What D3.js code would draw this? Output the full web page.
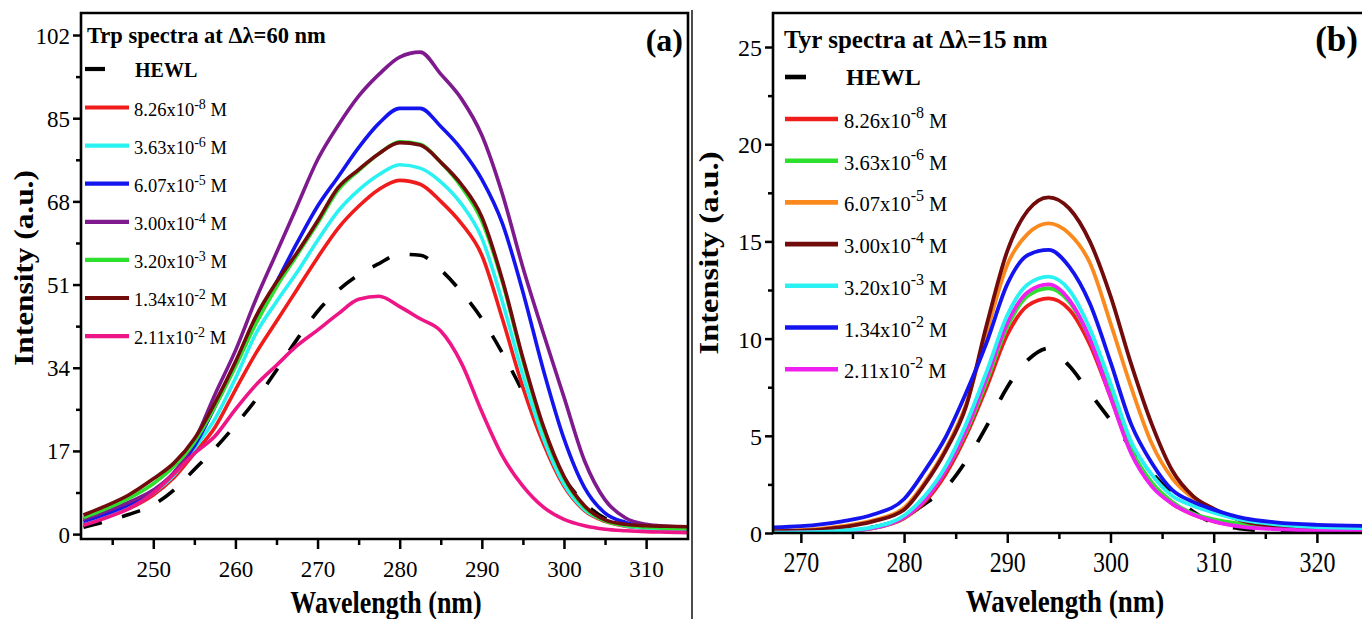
<!DOCTYPE html>
<meta charset="utf-8">
<head>
<style>
    body { margin: 0; background: #fff; }
    svg { font-family: "Liberation Serif", "Times New Roman", serif; }
    .tick line { stroke: #000; }
    .tick text { fill: #000; }
    .bold { font-weight: bold; }
</style>
<script src="https://cdn.jsdelivr.net/npm/d3@7"></script>
</head>
<body>
<svg id="chart" width="1362" height="619"></svg>
<script>
// ---------- data, panel (a): Trp spectra at dl = 60 nm ----------
var trpWl = [241.5, 244, 247, 250, 252.5, 255, 257.5, 260, 262.5, 265, 267.5, 270, 272.5, 275, 277.5,
             280, 282.5, 285, 287.5, 290, 292.5, 295, 297.5, 300, 302.5, 305, 307.5, 310, 312.5, 315.2];
var trpHewl  = [1.4, 2.5, 4, 6, 9, 13.2, 17.5, 22.3, 27.5, 33.5, 39.8, 45.5, 49.8, 53, 55.3,
                57.2, 57, 54, 49.5, 44, 37, 29, 20, 11.5, 6.4, 3.2, 1.9, 1.3, 1.1, 1];
var trpC1 = [2.2, 3.4, 5.2, 8, 11.5, 16.5, 21.8, 29.5, 37, 43.5, 50, 56.5, 62.5, 67, 70.5,
             72.3, 71.5, 68, 63.5, 57, 44, 30, 18.5, 9.8, 4.8, 2.6, 1.6, 1.2, 1, 0.9];
var trpC2 = [2.4, 3.6, 5.5, 8.4, 12, 17.5, 23.5, 31.8, 41, 47.5, 53.5, 60, 66, 70.3, 73.5,
             75.5, 74.8, 72, 67.5, 60.5, 47.5, 32.5, 19.5, 10.2, 5, 2.8, 1.7, 1.2, 1, 0.9];
var trpC3 = [2.6, 4, 6, 8.8, 12.5, 18, 26, 34.5, 43.5, 51.5, 59.5, 67, 73, 79, 84,
             87, 87, 83.3, 78.7, 72.5, 63.5, 49.5, 33.5, 19.5, 9.5, 4.3, 2.4, 1.6, 1.3, 1.1];
var trpC4 = [3, 4.5, 6.5, 9, 12.5, 19, 28.5, 37.5, 48, 57.5, 67, 76.5, 83.5, 89.5, 94,
             97.5, 98.5, 94, 89, 81.5, 69.5, 54.5, 41, 28, 15, 7, 3.3, 2, 1.6, 1.4];
var trpC5 = [3.4, 5, 7.3, 10.3, 13.8, 18.8, 26, 34.2, 43, 50.5, 57, 63.5, 70.3, 74.3, 77.8,
             80.2, 79.7, 76, 71, 64, 51.5, 35.5, 21.5, 11.5, 5.5, 2.7, 1.8, 1.4, 1.2, 1.1];
var trpC6 = [3.9, 5.6, 8, 11.3, 14.5, 19.5, 26.8, 35.2, 44.5, 51.5, 57.5, 64, 70.8, 74.5, 77.8,
             80, 79.5, 76, 71.5, 64.8, 52, 36, 22, 11.8, 5.8, 2.9, 2, 1.7, 1.6, 1.5];
var trpC7 = [1.8, 3.2, 5.2, 8.4, 12.3, 16.5, 20, 25.5, 30.5, 34.5, 38.5, 41.7, 45, 48, 48.6,
             46.5, 44, 41.5, 35, 25, 16, 9.8, 5.5, 3, 1.7, 1, 0.7, 0.5, 0.4, 0.3];

// ---------- data, panel (b): Tyr spectra at dl = 15 nm ----------
var tyrWl = [267.3, 270, 274, 277, 280, 282, 284, 286, 288, 290, 292, 294, 296, 298, 300,
             302, 304, 306, 308, 310, 313, 316, 320, 325];
var tyrHewl = [0.02, 0.03, 0.1, 0.3, 0.8, 1.5, 2.3, 3.7, 5.5, 7.5, 8.9, 9.5, 8.6, 7.2, 5.8,
               4.4, 3.1, 2, 1.1, 0.5, 0.2, 0.1, 0.05, 0.03];
var tyrC1 = [0.02, 0.03, 0.1, 0.25, 0.75, 1.6, 3, 5, 7.5, 10.2, 11.7, 12.07, 11.5, 9.7, 7,
             4.2, 2.5, 1.5, 0.95, 0.6, 0.35, 0.25, 0.18, 0.15];
var tyrC2 = [0.02, 0.03, 0.1, 0.25, 0.8, 1.7, 3.2, 5.2, 7.8, 10.6, 12.2, 12.59, 11.9, 10, 7.2,
             4.3, 2.6, 1.6, 1, 0.7, 0.45, 0.3, 0.22, 0.2];
var tyrC3 = [0.12, 0.15, 0.35, 0.65, 1.3, 2.6, 4.3, 6.6, 10.3, 13.8, 15.4, 15.93, 15.4, 13.9, 10.8,
             7.5, 4.6, 2.8, 1.8, 1.2, 0.6, 0.35, 0.2, 0.15];
var tyrC4 = [0.1, 0.12, 0.3, 0.6, 1.2, 2.5, 4.2, 6.5, 10.7, 14.5, 16.6, 17.27, 16.7, 15, 12.2,
             8.7, 5.6, 3.2, 1.9, 1.25, 0.6, 0.35, 0.2, 0.15];
var tyrC5 = [0.02, 0.03, 0.12, 0.3, 0.9, 1.9, 3.4, 5.6, 8.3, 11.2, 12.8, 13.19, 12.5, 10.5, 7.7,
             4.7, 3, 1.9, 1.4, 1.05, 0.65, 0.45, 0.3, 0.25];
var tyrC6 = [0.29, 0.35, 0.6, 0.95, 1.75, 3.2, 4.9, 7.2, 9.8, 12.8, 14.3, 14.56, 13.7, 11.8, 8.8,
             5.6, 3.6, 2.2, 1.6, 1.2, 0.75, 0.55, 0.42, 0.36];
var tyrC7 = [0.02, 0.03, 0.1, 0.25, 0.8, 1.7, 3.2, 5.3, 8, 10.8, 12.4, 12.79, 12, 10, 7,
             4.1, 2.4, 1.5, 0.95, 0.6, 0.3, 0.2, 0.12, 0.1];

// concentrations shown in both legends
var concMant = ["8.26", "3.63", "6.07", "3.00", "3.20", "1.34", "2.11"];
var concExp  = ["-8", "-6", "-5", "-4", "-3", "-2", "-2"];

var trpTicksY = [0, 17, 34, 51, 68, 85, 102];
var trpTicksX = [250, 260, 270, 280, 290, 300, 310];
var tyrTicksY = [0, 5, 10, 15, 20, 25];
var tyrTicksX = [270, 280, 290, 300, 310, 320];

var svg = d3.select("#chart");

function panel(o) {
    var x = d3.scaleLinear().domain(o.xDom).range([o.left, o.right]);
    var y = d3.scaleLinear().domain(o.yDom).range([o.bottom, o.top]);

    svg.append("clipPath").attr("id", "clip" + o.id).append("rect")
        .attr("x", o.left).attr("y", o.top)
        .attr("width", o.right - o.left).attr("height", o.bottom - o.top);

    var line = d3.line()
        .x(function (d, i) { return x(o.wl[i]); })
        .y(function (d) { return y(d); })
        .curve(d3.curveMonotoneX);

    var lines = svg.append("g").attr("clip-path", "url(#clip" + o.id + ")");
    o.order.forEach(function (k) {
        lines.append("path").datum(o.series[k])
            .attr("d", line)
            .attr("fill", "none")
            .attr("stroke", o.colors[k])
            .attr("stroke-width", o.lineW)
            .attr("stroke-linejoin", "round")
            .attr("stroke-dasharray", k == 0 ? o.dash : null);
    });

    // ticks
    function stepRange(a, b, s) { return d3.range(a, b + s / 2, s); }
    var gx = svg.append("g").attr("transform", "translate(0," + o.bottom + ")")
        .call(d3.axisBottom(x).tickValues(o.ticksX).tickSize(10).tickSizeOuter(0).tickFormat(d3.format("d")));
    var gxm = svg.append("g").attr("transform", "translate(0," + o.bottom + ")")
        .call(d3.axisBottom(x).tickValues(stepRange(o.minorX[0], o.minorX[1], 10)).tickSize(6).tickFormat(""));
    var gy = svg.append("g").attr("transform", "translate(" + o.left + ",0)")
        .call(d3.axisLeft(y).tickValues(o.ticksY).tickSize(8).tickSizeOuter(0).tickFormat(d3.format("d")));
    var gym = svg.append("g").attr("transform", "translate(" + o.left + ",0)")
        .call(d3.axisLeft(y).tickValues(stepRange(o.minorY[0], o.minorY[1], o.minorY[2])).tickSize(5).tickFormat(""));
    [gx, gxm, gy, gym].forEach(function (g) {
        g.attr("font-family", null).attr("font-size", null);
        g.select(".domain").remove();
        g.selectAll(".tick line").attr("stroke-width", 2.5);
    });
    gx.selectAll(".tick text")
        .attr("font-size", o.tickFont).attr("dy", null).attr("y", 0)
        .attr("transform", "translate(0," + o.xLabelBase + ") scale(1," + o.xLabelStretch + ")");
    gy.selectAll(".tick text")
        .attr("font-size", o.tickFont).attr("x", -11).attr("dy", "0.35em");

    // frame
    svg.append("path").attr("d", o.frame)
        .attr("fill", "none").attr("stroke", "#000").attr("stroke-width", 2.6);

    // axis titles (the source figure is slightly stretched vertically)
    svg.append("text").attr("class", "bold")
        .attr("transform", "translate(" + o.xTitle[0] + "," + o.xTitle[1] + ") scale(1,1.18)")
        .attr("text-anchor", "middle").attr("font-size", o.titleFont)
        .text("Wavelength (nm)");
    svg.append("text").attr("class", "bold")
        .attr("transform", "translate(" + o.yTitle[0] + "," + o.yTitle[1] + ") rotate(-90) scale(1.16,1)")
        .attr("text-anchor", "middle").attr("font-size", o.titleFont + 1)
        .text("Intensity (a.u.)");

    // panel letter
    svg.append("text").attr("class", "bold")
        .attr("x", o.letter[0]).attr("y", o.letter[1])
        .attr("text-anchor", "end").attr("font-size", o.letterFont)
        .text(o.letterText);

    // legend
    var L = o.legend;
    svg.append("text").attr("class", "bold")
        .attr("x", L.titleX).attr("y", L.titleY).attr("font-size", L.titleFont)
        .text(o.legendTitle);
    svg.append("line")
        .attr("x1", L.x0).attr("x2", L.x0 + L.dashLen).attr("y1", L.hewlY).attr("y2", L.hewlY)
        .attr("stroke", "#000").attr("stroke-width", L.w);
    svg.append("text").attr("class", "bold")
        .attr("x", L.hewlX).attr("y", L.hewlY + L.hewlDy).attr("font-size", L.hewlFont)
        .text("HEWL");
    concMant.forEach(function (m, i) {
        var yy = L.y0 + i * L.step;
        svg.append("line")
            .attr("x1", L.x0).attr("x2", L.x1).attr("y1", yy).attr("y2", yy)
            .attr("stroke", o.colors[i + 1]).attr("stroke-width", L.w);
        var t = svg.append("text").attr("x", L.textX).attr("y", yy + L.textDy)
            .attr("font-size", L.font);
        t.append("tspan").text(m + "x10");
        t.append("tspan").attr("dy", -L.supRise).attr("font-size", L.supFont).text(concExp[i]);
        t.append("tspan").attr("dy", L.supRise).text(" M");
    });
}

panel({
    id: "a",
    wl: trpWl,
    series: [trpHewl, trpC1, trpC2, trpC3, trpC4, trpC5, trpC6, trpC7],
    colors: ["#000000", "#f01c1c", "#2af2f2", "#1414ee", "#7e1a8e", "#2ee02e", "#720c0c", "#ee1687"],
    order: [0, 1, 2, 3, 4, 5, 6, 7],
    lineW: 3.6,
    dash: "19,21",
    xDom: [241.2, 315.1], yDom: [-1.0, 106.5],
    left: 81, right: 688, top: 13, bottom: 539,
    ticksX: trpTicksX, ticksY: trpTicksY,
    minorX: [245, 305], minorY: [8.5, 93.5, 17],
    tickFont: 23, xLabelBase: 38, xLabelStretch: 1,
    frame: "M81,13H688V539H81Z",
    titleFont: 26, xTitle: [386, 613], yTitle: [33, 268],
    letter: [683, 51], letterFont: 32, letterText: "(a)",
    legendTitle: "Trp spectra at \u0394\u03bb=60 nm",
    legend: { titleX: 87, titleY: 43, titleFont: 22.5,
              x0: 85, x1: 129, dashLen: 20, w: 4.2,
              hewlX: 135, hewlY: 69, hewlDy: 8, hewlFont: 20,
              y0: 107.5, step: 38.1, textX: 134, textDy: 8,
              font: 18.5, supFont: 14, supRise: 7 }
});

panel({
    id: "b",
    wl: tyrWl,
    series: [tyrHewl, tyrC1, tyrC2, tyrC3, tyrC4, tyrC5, tyrC6, tyrC7],
    colors: ["#000000", "#f01c1c", "#2ee02e", "#fb8a1e", "#720c0c", "#2af2f2", "#1414ee", "#f020f0"],
    order: [0, 1, 2, 3, 4, 7, 5, 6],
    lineW: 3.8,
    dash: "22,26",
    xDom: [267.3, 325], yDom: [0, 26.75],
    left: 773, right: 1368.5, top: 13, bottom: 533,
    ticksX: tyrTicksX, ticksY: tyrTicksY,
    minorX: [275, 325], minorY: [2.5, 22.5, 5],
    tickFont: 24, xLabelBase: 39, xLabelStretch: 1.25,
    frame: "M1368.5,13H773V533H1368.5",
    titleFont: 27, xTitle: [1065, 612], yTitle: [718, 253],
    letter: [1358, 51], letterFont: 35, letterText: "(b)",
    legendTitle: "Tyr spectra at \u0394\u03bb=15 nm",
    legend: { titleX: 784, titleY: 48, titleFont: 25,
              x0: 785, x1: 838, dashLen: 21, w: 4.6,
              hewlX: 846, hewlY: 77, hewlDy: 8, hewlFont: 24,
              y0: 119, step: 41.7, textX: 844, textDy: 9,
              font: 20.5, supFont: 16, supRise: 10 }
});

// thin divider between the two panels
svg.append("line").attr("x1", 692).attr("x2", 692).attr("y1", 10).attr("y2", 619)
    .attr("stroke", "#000").attr("stroke-width", 1.4);
</script>
</body>
